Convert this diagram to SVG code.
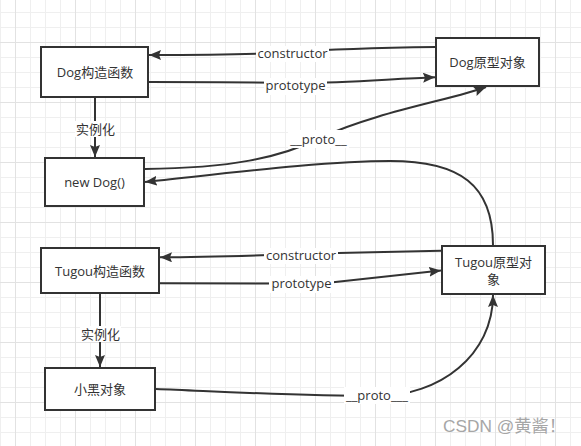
<svg xmlns="http://www.w3.org/2000/svg" width="581" height="446" viewBox="0 0 581 446">
<defs>
<pattern id="minor" patternUnits="userSpaceOnUse" x="0" y="12" width="15" height="15">
<path d="M0,0.5 H15 M0.5,0 V15" stroke="#efefef" stroke-width="1" fill="none"/>
</pattern>
<pattern id="major" patternUnits="userSpaceOnUse" x="15" y="42" width="60" height="60">
<path d="M0,0.5 H60 M0.5,0 V60" stroke="#e2e2e2" stroke-width="1" fill="none"/>
</pattern>
<marker id="arrow" markerUnits="userSpaceOnUse" markerWidth="13" markerHeight="10" refX="12" refY="5" orient="auto">
<path d="M0,0 L12,5 L0,10 L2,5 z" fill="#333"/>
</marker>
<style>
.node rect{fill:#fff;stroke:#333;stroke-width:2}
.node text,.lbl text{font-family:"Open Sans","Noto Sans CJK SC",sans-serif;font-size:13px;fill:#333;text-anchor:middle}
.edge{fill:none;stroke:#333;stroke-width:2;marker-end:url(#arrow)}
.line{fill:none;stroke:#333;stroke-width:2}
.lbl rect{fill:#fff}
</style>
</defs>
<rect width="581" height="446" fill="#fff"/>
<rect width="581" height="446" fill="url(#minor)"/>
<rect width="581" height="446" fill="url(#major)"/>

<g id="connectors">
<path class="edge" d="M436,47 C400,47.5 340,48.5 292,52 C260,54.5 200,55 149,55"/>
<path class="edge" d="M149,82 C220,82 270,82.5 296,83 C340,83.5 390,79 435,77.3"/>
<path class="edge" d="M95,98 L95,157"/>
<path class="edge" d="M145,169 C230,168 280,158 320,138 C375,112 455,99 486,87"/>
<path class="edge" d="M493,245 C493,185 460,161 390,161 C325,161 230,173 145,182"/>
<path class="edge" d="M441,250.7 C400,251.5 350,252.5 301,254 C260,255.5 210,257.3 160,257.3"/>
<path class="edge" d="M160,283.3 L270,283.5 C300,284 310,283 333,282.3 L441,270.6"/>
<path class="edge" d="M100,294 L100,367"/>
<path class="edge" d="M156,389 C230,392 300,396 377,396 C440,396 493,355 493,295"/>
<g class="lbl">
<rect x="256" y="46" width="73" height="16"/><text x="292.5" y="58">constructor</text>
<rect x="264" y="78" width="63" height="17"/><text x="295.5" y="90">prototype</text>
<rect x="75" y="121" width="41" height="16"/><text x="95.5" y="134">实例化</text>
<rect x="288" y="130" width="61" height="18"/><text x="318.5" y="144">__proto__</text>
<rect x="264" y="248" width="74" height="16"/><text x="301" y="260">constructor</text>
<rect x="269" y="276" width="65" height="17"/><text x="301.5" y="288">prototype</text>
<rect x="80" y="326" width="41" height="16"/><text x="100.5" y="339">实例化</text>
<rect x="344" y="387" width="66" height="17"/><text x="377" y="400">__proto___</text>
</g>
</g>

<g id="node-dog-ctor" class="node"><rect x="41" y="47" width="107" height="50"/><text x="95" y="76.5">Dog构造函数</text></g>
<g id="node-new-dog" class="node"><rect x="45" y="158" width="99" height="48"/><text x="94.5" y="186.5">new Dog()</text></g>
<g id="node-dog-proto" class="node"><rect x="436" y="38" width="103" height="48"/><text x="487.5" y="66.5">Dog原型对象</text></g>
<g id="node-tugou-ctor" class="node"><rect x="41" y="248" width="118" height="45"/><text x="100" y="275.5">Tugou构造函数</text></g>
<g id="node-xiaohei" class="node"><rect x="45" y="368" width="110" height="42"/><text x="100" y="393.5">小黑对象</text></g>
<g id="node-tugou-proto" class="node"><rect x="442" y="246" width="103" height="48"/><text x="493.5" y="266.5">Tugou原型对</text><text x="493.5" y="283.5">象</text></g>

<text x="443" y="432" font-family="'Liberation Sans','Noto Sans CJK SC',sans-serif" font-size="17" fill="#a6a6a6" textLength="123" lengthAdjust="spacingAndGlyphs">CSDN @黄酱！</text>
</svg>
